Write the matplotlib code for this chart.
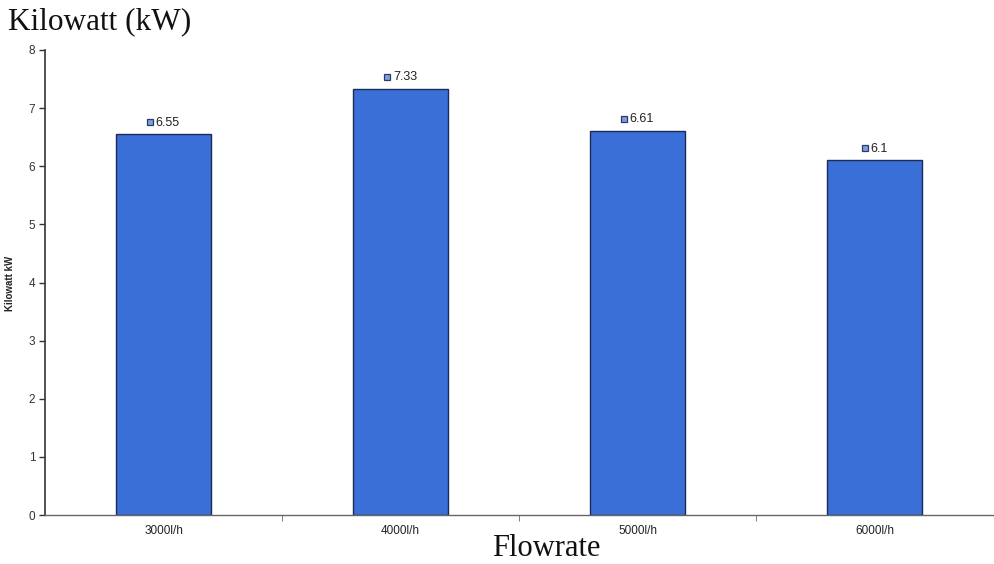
"""
Power draw per flowrate setting: bar chart with value labels.
"""

import matplotlib
matplotlib.use('Agg')
import matplotlib.pyplot as plt
import matplotlib.transforms as mtransforms
from matplotlib import font_manager

FLOWRATES = ['3000l/h', '4000l/h', '5000l/h', '6000l/h']
KILOWATT = [6.55, 7.33, 6.61, 6.1]
VALUE_LABELS = ['6.55', '7.33', '6.61', '6.1']
Y_TICKS = [0, 1, 2, 3, 4, 5, 6, 7, 8]

BAR_COLOR = '#3b6fd8'
EDGE_COLOR = '#1d2a55'

names = {f.name for f in font_manager.fontManager.ttflist}
narrow = 'Liberation Sans Narrow' if 'Liberation Sans Narrow' in names else 'Liberation Sans'
serif = 'Liberation Serif'
small = 9.5 if narrow == 'Liberation Sans Narrow' else 8.5
label_fs = 9


def text_width_pt(s, fs):
    # rough advance widths for Arial-like digits and dot
    return sum((0.278 if c == '.' else 0.556) * fs for c in s)


fig = plt.figure(figsize=(9.94, 5.64), dpi=100)
ax = fig.add_axes([45 / 994, 1 - 515 / 564, 0.999 - 45 / 994, (515 - 50) / 564])

x = range(len(FLOWRATES))
ax.bar(x, KILOWATT, width=0.4, color=BAR_COLOR, edgecolor=EDGE_COLOR, linewidth=1.0, zorder=2)

# value labels: small square key followed by the number, centred as a group
for i, (val, txt) in enumerate(zip(KILOWATT, VALUE_LABELS)):
    group_w = 5 + 1.5 + text_width_pt(txt, label_fs)
    start = -group_w / 2
    ax.annotate(txt, (i, val), xytext=(start + 6.5, 4), textcoords='offset points',
                ha='left', va='bottom', fontsize=label_fs, family=narrow, color='#222222')
    tr = mtransforms.offset_copy(ax.transData, fig=fig, x=start + 2.5, y=8.8, units='points')
    ax.plot([i], [val], marker='s', markersize=5, markerfacecolor='#7f9fd8',
            markeredgecolor='#2a3a6a', markeredgewidth=0.9, transform=tr, clip_on=False)

ax.set_xlim(-0.5, len(FLOWRATES) - 0.5)
ax.set_ylim(0, 8)
ax.set_yticks(Y_TICKS)
ax.set_yticklabels([str(t) for t in Y_TICKS], fontsize=small, family=narrow, color='#333333')
ax.set_xticks(list(x))
ax.set_xticklabels(FLOWRATES, fontsize=small, family=narrow, color='#222222')
ax.set_xticks([0.5, 1.5, 2.5], minor=True)
ax.tick_params(axis='x', which='major', length=0, pad=7)
ax.tick_params(axis='x', which='minor', length=4, color='#666666', direction='out')
ax.tick_params(axis='y', length=4, width=1, color='#333333', pad=3)

for side in ('top', 'right'):
    ax.spines[side].set_visible(False)
ax.spines['left'].set_color('#333333')
ax.spines['left'].set_linewidth(1.2)
ax.spines['bottom'].set_color('#666666')
ax.spines['bottom'].set_linewidth(1.0)

fig.text(8 / 994, 1 - 22 / 564, 'Kilowatt (kW)', family=serif, fontsize=22.5,
         ha='left', va='center', color='#111111')
fig.text(546 / 994, 1 - 549 / 564, 'Flowrate', family=serif, fontsize=22,
         ha='center', va='center', color='#111111')
fig.text(10 / 994, 1 - 283 / 564, 'Kilowatt kW', family=narrow, fontsize=7,
         fontweight='bold', rotation=90, ha='center', va='center', color='#222222')

fig.savefig('out.png', dpi=100)
